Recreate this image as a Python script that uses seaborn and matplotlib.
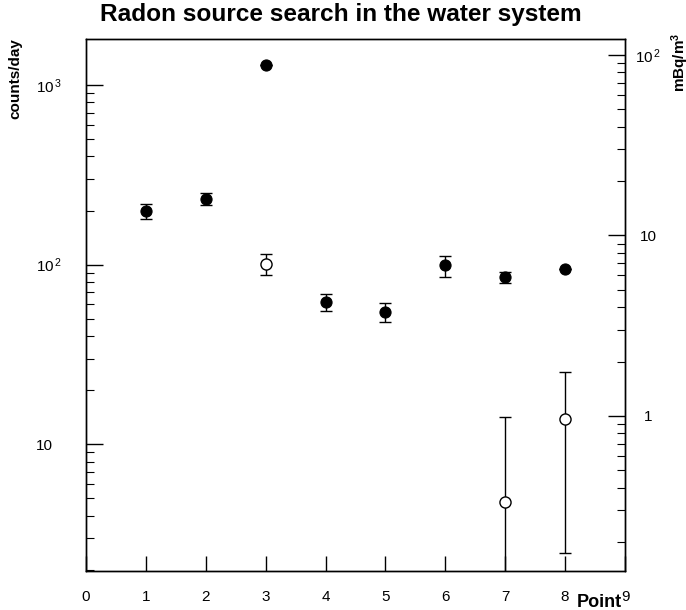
import matplotlib
matplotlib.use("Agg")
import matplotlib.pyplot as plt
import seaborn as sns
import numpy as np
import pandas as pd
from matplotlib.ticker import FixedLocator, LogLocator, NullFormatter, FixedFormatter

# ---- data ----
filled_x = [1, 2, 3, 4, 5, 6, 7, 8]
filled_y = [199, 232, 1290, 61.7, 54.2, 99, 85.1, 94.9]
filled_lo = [180, 216, 1290, 54.9, 48.1, 85.7, 78.7, 94.9]
filled_hi = [218, 249, 1290, 68.9, 60.8, 112, 91.5, 94.9]

open_x = [3, 7, 8]
open_y = [101, 4.77, 13.9]
open_lo = [87.5, 0.1, 2.49]
open_hi = [115, 14.1, 25.2]

x_ticks = [0, 1, 2, 3, 4, 5, 6, 7, 8, 9]
left_ticks = [10, 100, 1000]
left_labels = ["10", r"$\mathregular{10^{\,2}}$", r"$\mathregular{10^{\,3}}$"]
right_ticks = [1, 10, 100]
right_labels = ["1", "10", r"$\mathregular{10^{\,2}}$"]

title = "Radon source search in the water system"
ylabel_left = "counts/day"
ylabel_right = r"mBq/m$\mathregular{^3}$"
xlabel = "Point"

sns.set_style("white")
plt.rcParams["font.family"] = ["Liberation Sans", "DejaVu Sans"]
plt.rcParams["mathtext.fontset"] = "custom"
plt.rcParams["mathtext.rm"] = "Liberation Sans"
plt.rcParams["mathtext.bf"] = "Liberation Sans:bold"
for k in ["text.color", "axes.labelcolor", "xtick.color", "ytick.color", "axes.edgecolor"]:
    plt.rcParams[k] = "black"

fig = plt.figure(figsize=(6.86, 6.10), dpi=100)
ax = fig.add_axes([86/686, 1-571/610, (625-86)/686, (571-39)/610])

df_f = pd.DataFrame({"x": filled_x, "y": filled_y})
df_o = pd.DataFrame({"x": open_x, "y": open_y})

ax.set_yscale("log")
fy = np.array(filled_y); oy = np.array(open_y)
ferr = np.vstack([fy - np.array(filled_lo), np.array(filled_hi) - fy])
oerr = np.vstack([oy - np.array(open_lo), np.array(open_hi) - oy])
ax.errorbar(filled_x, filled_y, yerr=ferr, fmt="none", ecolor="black",
            elinewidth=1.0, capsize=4, capthick=1.0, zorder=2)
ax.errorbar(open_x, open_y, yerr=oerr, fmt="none", ecolor="black",
            elinewidth=1.0, capsize=4, capthick=1.0, zorder=2)

sns.scatterplot(data=df_f, x="x", y="y", ax=ax, color="black", s=64,
                edgecolor="black", linewidth=0.8, zorder=3, legend=False)
sns.scatterplot(data=df_o, x="x", y="y", ax=ax, color="white", s=64,
                edgecolor="black", linewidth=1.0, zorder=3, legend=False)

ax.set_xlim(0, 9)
ax.set_ylim(1.97, 1803)
ax.set_xlabel("")
ax.set_ylabel("")

ax.xaxis.set_major_locator(FixedLocator(x_ticks))
ax.set_xticklabels([str(t) for t in x_ticks])
ax.tick_params(axis="x", which="major", direction="in", length=10.8, width=1.0,
               labelsize=11, pad=14, bottom=True, top=False)
ax.xaxis.set_minor_locator(FixedLocator([]))

ax.yaxis.set_major_locator(FixedLocator(left_ticks))
ax.yaxis.set_major_formatter(FixedFormatter(left_labels))
ax.yaxis.set_minor_locator(LogLocator(base=10, subs=np.arange(2, 10)))
ax.yaxis.set_minor_formatter(NullFormatter())
ax.tick_params(axis="y", which="major", direction="in", length=12, width=1.0,
               labelsize=11, pad=36, left=True, right=False)
ax.tick_params(axis="y", which="minor", direction="in", length=6, width=0.8,
               left=True, right=False)
for lab in ax.get_yticklabels():
    lab.set_horizontalalignment("left")

for sp in ax.spines.values():
    sp.set_visible(True)
    sp.set_color("black")
    sp.set_linewidth(1.0)

ax2 = ax.twinx()
ax2.set_yscale("log")
ax2.set_ylim(0.138, 122.6)
ax2.yaxis.set_major_locator(FixedLocator(right_ticks))
ax2.yaxis.set_major_formatter(FixedFormatter(right_labels))
ax2.yaxis.set_minor_locator(LogLocator(base=10, subs=np.arange(2, 10)))
ax2.yaxis.set_minor_formatter(NullFormatter())
ax2.tick_params(axis="y", which="major", direction="in", length=12, width=1.0,
                labelsize=11, pad=16.5, right=True, left=False)
ax2.tick_params(axis="y", which="minor", direction="in", length=6, width=0.8,
                right=True, left=False)
for lab in ax2.get_yticklabels():
    lab.set_horizontalalignment("center")
for sp in ax2.spines.values():
    sp.set_linewidth(1.0)
    sp.set_color("black")

fig.text(341/686, 1-15/610, title, ha="center", va="center", fontsize=17.6,
         fontweight="bold")
fig.text(15/686, 1-38/610, ylabel_left, ha="center", va="top", rotation=90,
         fontsize=11, fontweight="bold")
fig.text(680/686, 1-33/610, ylabel_right, ha="center", va="top", rotation=90,
         fontsize=11, fontweight="bold")
fig.text(622/686, 1-607/610, xlabel, ha="right", va="baseline", fontsize=13,
         fontweight="bold")

fig.savefig("out.png", dpi=100)
